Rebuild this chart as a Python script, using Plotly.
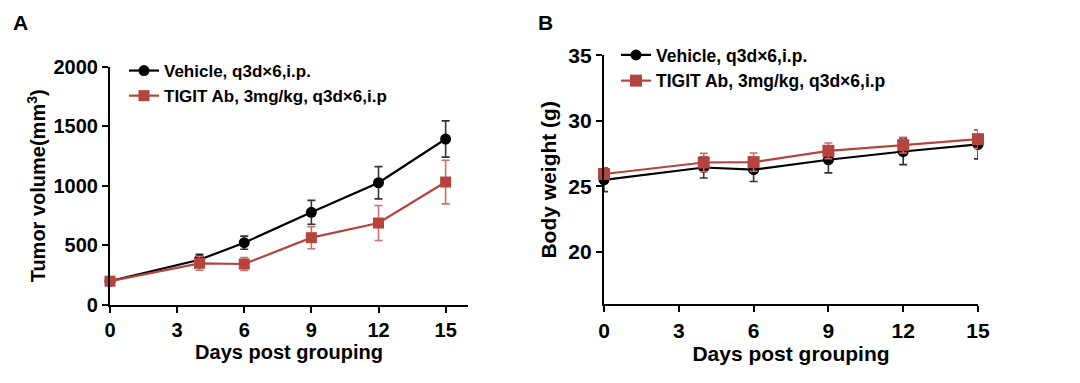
import plotly.graph_objects as go

days = [0, 4, 6, 9, 12, 15]

# Panel A: tumor volume (mm^3)
veh_tv = [200, 380, 523, 778, 1026, 1393]
veh_tv_se = [20, 45, 55, 100, 135, 152]
tig_tv = [200, 350, 344, 565, 688, 1032]
tig_tv_se = [20, 58, 55, 93, 147, 183]

# Panel B: body weight (g)
veh_bw = [25.5, 26.44, 26.27, 27.03, 27.66, 28.2]
veh_bw_se = [0.9, 0.8, 0.9, 1.0, 1.0, 1.1]
tig_bw = [25.94, 26.82, 26.85, 27.71, 28.14, 28.6]
tig_bw_se = [0.4, 0.7, 0.7, 0.6, 0.6, 0.7]

x_ticks = [0, 3, 6, 9, 12, 15]
tv_ticks = [0, 500, 1000, 1500, 2000]
bw_ticks = [20, 25, 30, 35]

names = ["Vehicle, q3d×6,i.p.", "TIGIT Ab, 3mg/kg, q3d×6,i.p"]
BLACK = "#000000"
RED = "#B5443F"
FONT = "Arial, Liberation Sans, sans-serif"

W, H = 1080, 383
OFF = 8  # page body margin

def px_x(p):
    return (p - OFF) / W

def px_y(p):
    return 1 - (p - OFF) / H

fig = go.Figure()

def add_series(x, y, se, name, color, symbol, size, xa, ya, legend, errcolor):
    fig.add_trace(go.Scatter(
        x=x, y=y, name=name, mode="lines+markers",
        line=dict(color=color, width=2.2),
        marker=dict(color=color, symbol=symbol, size=size),
        error_y=dict(type="data", array=se, visible=True, color=errcolor,
                     thickness=1.6, width=4),
        xaxis=xa, yaxis=ya, legend=legend, cliponaxis=False,
    ))

add_series(days, veh_tv, veh_tv_se, names[0], BLACK, "circle", 11, "x", "y", "legend", "#333333")
add_series(days, tig_tv, tig_tv_se, names[1], RED, "square", 11, "x", "y", "legend", "#C8706B")
add_series(days, veh_bw, veh_bw_se, names[0], BLACK, "circle", 11, "x2", "y2", "legend2", "#333333")
add_series(days, tig_bw, tig_bw_se, names[1], RED, "square", 12, "x2", "y2", "legend2", "#C8706B")

axis_common = dict(
    showline=True, linecolor="black", linewidth=2.2,
    ticks="outside", ticklen=6, tickwidth=2, tickcolor="black",
    showgrid=False, zeroline=False, mirror=False, automargin=False,
)

fig.update_layout(
    width=W, height=H,
    margin=dict(l=0, r=0, t=0, b=0),
    paper_bgcolor="white", plot_bgcolor="white",
    font=dict(family=FONT, color="black"),
    xaxis=dict(
        domain=[px_x(110), px_x(468)], range=[0, 16],
        tickvals=x_ticks, anchor="y",
        tickfont=dict(size=20, weight="bold"),
        title=dict(text="Days post grouping", font=dict(size=20, weight="bold"), standoff=0),
        **axis_common,
    ),
    yaxis=dict(
        domain=[px_y(305), px_y(66.7)], range=[0, 2000],
        tickvals=tv_ticks, anchor="x",
        tickfont=dict(size=20, weight="bold"),
        title=dict(text="Tumor volume(mm<sup>3</sup>)", font=dict(size=20, weight="bold"), standoff=2),
        **axis_common,
    ),
    xaxis2=dict(
        domain=[px_x(604), px_x(978)], range=[0, 15],
        tickvals=x_ticks, anchor="y2",
        tickfont=dict(size=21, weight="bold"),
        title=dict(text="Days post grouping", font=dict(size=21, weight="bold"), standoff=6),
        **axis_common,
    ),
    yaxis2=dict(
        domain=[px_y(304.3), px_y(55.3)], range=[16, 35],
        tickvals=bw_ticks, anchor="x2",
        tickfont=dict(size=21, weight="bold"),
        title=dict(text="Body weight (g)", font=dict(size=21, weight="bold"), standoff=6),
        **axis_common,
    ),
    legend=dict(
        x=px_x(124), y=px_y(53), xanchor="left", yanchor="top",
        font=dict(size=17, weight="bold", family=FONT),
        bgcolor="rgba(0,0,0,0)", tracegroupgap=0,
    ),
    legend2=dict(
        x=px_x(616), y=px_y(37), xanchor="left", yanchor="top",
        font=dict(size=17.5, weight="bold", family=FONT),
        bgcolor="rgba(0,0,0,0)", tracegroupgap=0,
    ),
    showlegend=True,
    annotations=[
        dict(text="A", x=px_x(20), y=px_y(23), xref="paper", yref="paper",
             xanchor="center", yanchor="middle",
             showarrow=False, font=dict(size=21, weight="bold", family=FONT)),
        dict(text="B", x=px_x(545), y=px_y(23), xref="paper", yref="paper",
             xanchor="center", yanchor="middle",
             showarrow=False, font=dict(size=21, weight="bold", family=FONT)),
    ],
)

fig.write_html("out.html")
